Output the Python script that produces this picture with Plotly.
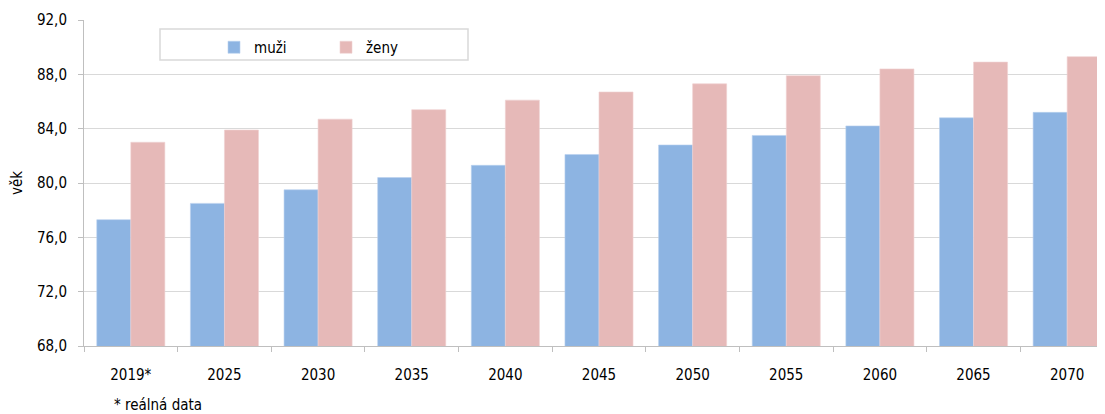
import plotly.graph_objects as go

categories = ["2019*", "2025", "2030", "2035", "2040", "2045", "2050", "2055", "2060", "2065", "2070"]
muzi = [77.3, 78.5, 79.5, 80.4, 81.3, 82.1, 82.8, 83.5, 84.2, 84.8, 85.2]
zeny = [83.0, 83.9, 84.7, 85.4, 86.1, 86.7, 87.3, 87.9, 88.4, 88.9, 89.3]
y_ticks = [68, 72, 76, 80, 84, 88, 92]

FONT = "DejaVu Sans Condensed, DejaVu Sans"
FS = 15
GRID = "#d9d9d9"
AXIS = "#bfbfbf"

# page body has an 8px offset; plot area spans x 84..1105, y 20..346 in the window
W, H = 1097, 406
L, T, B = 76, 12, 68
PW, PH = W - L, H - T - B

def px(xw):
    return (xw - 8 - L) / PW

def py(yw):
    return (H - B - (yw - 8)) / PH

fig = go.Figure()
fig.add_trace(go.Bar(name="muži", x=categories, y=muzi,
                     marker=dict(color="#8DB4E2", line=dict(color="#b9d0ee", width=0.6))))
fig.add_trace(go.Bar(name="ženy", x=categories, y=zeny,
                     marker=dict(color="#E6B9B8", line=dict(color="#f0d2d1", width=0.6))))

fig.update_layout(
    width=W, height=H,
    margin=dict(l=L, r=0, t=T, b=B),
    paper_bgcolor="white", plot_bgcolor="white",
    barmode="group", bargap=0.273, bargroupgap=0,
    separators=", ",
    font=dict(family=FONT, size=FS, color="#000000"),
    showlegend=True,
    legend=dict(orientation="h", x=px(214), y=py(31), xanchor="left", yanchor="top",
                bgcolor="rgba(0,0,0,0)", borderwidth=0,
                entrywidth=67, entrywidthmode="pixels",
                font=dict(family=FONT, size=FS), itemclick=False),
    shapes=[dict(type="rect", xref="paper", yref="paper",
                 x0=px(160), x1=px(468), y0=py(60), y1=py(29),
                 line=dict(color="#d9d9d9", width=1.5), fillcolor="white", layer="below")],
    annotations=[dict(text="* reálná data", xref="paper", yref="paper",
                      x=px(112), y=py(405),
                      xanchor="left", yanchor="middle", showarrow=False,
                      font=dict(family=FONT, size=FS))],
)

fig.update_xaxes(
    range=[-0.5, 10.404],
    showgrid=False,
    showline=True, linecolor=AXIS, linewidth=1,
    ticks="outside", tickson="boundaries", ticklen=5, tickcolor=AXIS,
    ticklabelstandoff=15,
    tickfont=dict(family=FONT, size=FS),
)
fig.update_yaxes(
    range=[68, 92], tickvals=y_ticks, tickformat=".1f",
    showgrid=True, gridcolor=GRID, gridwidth=1,
    showline=True, linecolor=AXIS, linewidth=1,
    ticks="outside", ticklen=5, tickcolor=AXIS,
    ticklabelstandoff=8,
    tickfont=dict(family=FONT, size=FS),
    title=dict(text="věk", font=dict(family=FONT, size=FS), standoff=10),
    zeroline=False,
)

fig.write_html("out.html")
